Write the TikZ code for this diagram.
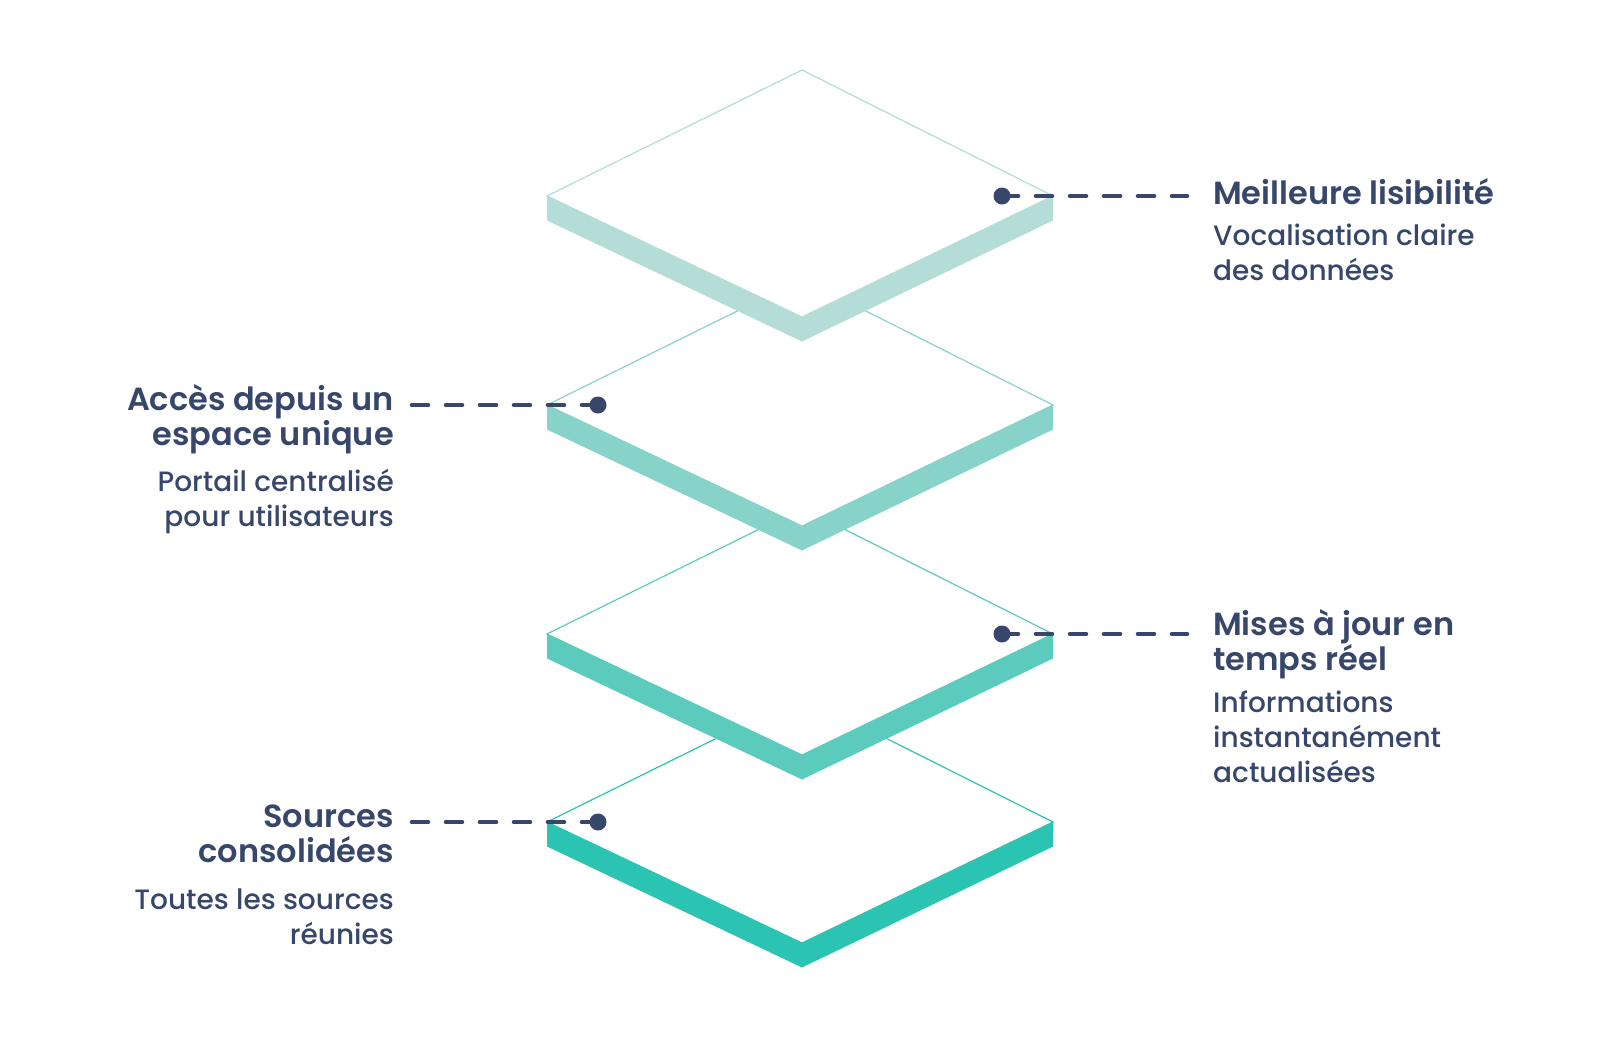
\documentclass[tikz,border=0pt]{standalone}
\usepackage{fontspec}
\setmainfont{Poppins}[UprightFont=* Medium, BoldFont=* SemiBold]
\usetikzlibrary{positioning}
\definecolor{navy}{HTML}{37476B}
\definecolor{layerA}{HTML}{B3DDD6}
\definecolor{layerB}{HTML}{87D3C9}
\definecolor{layerC}{HTML}{5BCBBE}
\definecolor{layerD}{HTML}{2BC3B1}
\tikzset{
    leader/.style={navy, line width=4.6pt, line cap=round, dash pattern=on 16pt off 18pt},
    enddot/.style={shape=circle, fill=navy, inner sep=0pt, minimum size=17pt},
    headtext/.style={font=\fontsize{32}{35}\selectfont\bfseries, text=navy, inner sep=0pt},
    subtext/.style={font=\fontsize{28}{35}\selectfont, text=navy, inner sep=0pt}
}

\begin{document}
\begin{tikzpicture}[x=1pt, y=-1pt]
    \useasboundingbox (0,0) rectangle (1600,1042);

    % bottom layer
    \fill[layerD] (547,822) -- (802,943) -- (1053,822) -- (1053,846.5) -- (802,967.5) -- (547,846.5) -- cycle;
    \filldraw[fill=white, draw=layerD, line width=1.2pt] (547,822) -- (802,696) -- (1053,822) -- (802,943) -- cycle;

    \fill[layerC] (547,634) -- (802,755) -- (1053,634) -- (1053,658.5) -- (802,779.5) -- (547,658.5) -- cycle;
    \filldraw[fill=white, draw=layerC, line width=1.2pt] (547,634) -- (802,508) -- (1053,634) -- (802,755) -- cycle;

    \fill[layerB] (547,405) -- (802,526) -- (1053,405) -- (1053,429.5) -- (802,550.5) -- (547,429.5) -- cycle;
    \filldraw[fill=white, draw=layerB, line width=1.2pt] (547,405) -- (802,279) -- (1053,405) -- (802,526) -- cycle;

    % top layer
    \fill[layerA] (547,196) -- (802,317) -- (1053,196) -- (1053,220.5) -- (802,341.5) -- (547,220.5) -- cycle;
    \filldraw[fill=white, draw=layerA, line width=1.2pt] (547,196) -- (802,70) -- (1053,196) -- (802,317) -- cycle;

    \node[enddot] (d1) at (1002,196) {};
    \coordinate (e1) at (1187,196);
    \node[headtext, anchor=base west, align=left] (t1) at (1213,204) {Meilleure lisibilité};
    \node[subtext, anchor=base west, align=left] (s1) at (1213,280) {Vocalisation claire\\des données};

    \node[enddot] (d2) at (598,405) {};
    \coordinate (e2) at (411,405);
    \node[headtext, anchor=base east, align=right] (t2) at (394,445) {Accès depuis un\\espace unique};
    \node[subtext, anchor=base east, align=right] (s2) at (394,526) {Portail centralisé\\pour utilisateurs};

    \node[enddot] (d3) at (1002,634) {};
    \coordinate (e3) at (1187,634);
    \node[headtext, anchor=base west, align=left] (t3) at (1213,670) {Mises à jour en\\temps réel};
    \node[subtext, anchor=base west, align=left] (s3) at (1213,782) {Informations\\instantanément\\actualisées};

    \node[enddot] (d4) at (598,822) {};
    \coordinate (e4) at (411,822);
    \node[headtext, anchor=base east, align=right] (t4) at (394,862) {Sources\\consolidées};
    \node[subtext, anchor=base east, align=right] (s4) at (394,944) {Toutes les sources\\réunies};

    \draw[leader] (d1.center) -- (e1);
    \draw[leader] (d2.center) -- (e2);
    \draw[leader] (d3.center) -- (e3);
    \draw[leader] (d4.center) -- (e4);
\end{tikzpicture}
\end{document}
